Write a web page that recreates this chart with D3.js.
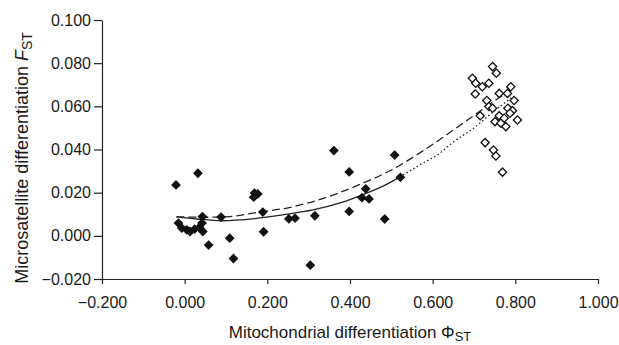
<!DOCTYPE html>
<html>
<head>
<meta charset="utf-8">
<script src="https://cdn.jsdelivr.net/npm/d3@7"></script>
<style>
  body { margin: 0; background: #fff; }
  svg { display: block; font-family: "Liberation Sans", Arial, sans-serif; }
</style>
</head>
<body>
<div id="chart"></div>
<script>
// filled diamonds
var filledX = [-0.021, 0.032, -0.015, -0.007, 0.005, 0.013, 0.024, 0.036, 0.043, 0.042, 0.044, 0.058, 0.088, 0.109, 0.118,
  0.169, 0.177, 0.167, 0.189, 0.191, 0.252, 0.267, 0.315, 0.304, 0.361, 0.398, 0.508, 0.522, 0.438, 0.429, 0.446, 0.398, 0.484];
var filledY = [0.0236, 0.029, 0.0059, 0.0036, 0.0028, 0.002, 0.0031, 0.004, 0.0089, 0.0059, 0.002, -0.0043, 0.0087, -0.0011, -0.0105,
  0.0198, 0.0194, 0.0179, 0.011, 0.0019, 0.0079, 0.0082, 0.0093, -0.0136, 0.0395, 0.0296, 0.0374, 0.0271, 0.0218, 0.0177, 0.0171, 0.0113, 0.0078];

// open diamonds
var openX = [0.745, 0.754, 0.696, 0.704, 0.720, 0.736, 0.703, 0.761, 0.789, 0.781, 0.797, 0.731, 0.736, 0.745,
  0.782, 0.793, 0.787, 0.715, 0.761, 0.773, 0.805, 0.751, 0.765, 0.777, 0.727, 0.747, 0.753, 0.769];
var openY = [0.0784, 0.0753, 0.073, 0.0707, 0.0691, 0.0707, 0.0657, 0.066, 0.0691, 0.066, 0.0627, 0.0627, 0.0599, 0.0591,
  0.0591, 0.058, 0.0568, 0.0556, 0.0556, 0.0545, 0.0537, 0.0529, 0.0522, 0.0506, 0.0432, 0.0398, 0.037, 0.0295];

// trend lines
var solidX = [-0.02, 0.03, 0.09, 0.17, 0.24, 0.31, 0.38, 0.43, 0.48, 0.52];
var solidY = [0.0088, 0.0078, 0.0070, 0.0080, 0.0098, 0.0120, 0.0155, 0.0190, 0.0230, 0.0272];
var dashedX = [-0.02, 0.05, 0.10, 0.18, 0.25, 0.30, 0.43, 0.50, 0.58, 0.65, 0.72, 0.79];
var dashedY = [0.0088, 0.0086, 0.0088, 0.0110, 0.0130, 0.0153, 0.0243, 0.0305, 0.0398, 0.0490, 0.0585, 0.0680];
var dottedX = [0.52, 0.57, 0.615, 0.65, 0.70, 0.75, 0.79];
var dottedY = [0.0272, 0.0330, 0.0380, 0.0435, 0.0500, 0.0580, 0.0640];

var xTicks = [-0.2, 0, 0.2, 0.4, 0.6, 0.8, 1.0];
var yTicks = [-0.02, 0, 0.02, 0.04, 0.06, 0.08, 0.1];

var w = 619, h = 345;
var x = d3.scaleLinear().domain([-0.2, 1.0]).range([102, 598]);
var y = d3.scaleLinear().domain([-0.02, 0.1]).range([279, 20]);

var svg = d3.select('#chart').append('svg').attr('width', w).attr('height', h);

var fmt = function (d) { return (d < 0 ? '\u2212' : '') + Math.abs(d).toFixed(3); };

var xAxis = svg.append('g')
    .attr('transform', 'translate(0,' + y(-0.02) + ')')
    .call(d3.axisBottom(x).tickValues(xTicks).tickFormat(fmt).tickSize(5).tickSizeOuter(0));
var yAxis = svg.append('g')
    .attr('transform', 'translate(' + x(-0.2) + ',0)')
    .call(d3.axisLeft(y).tickValues(yTicks).tickFormat(fmt).tickSize(8).tickSizeOuter(0));

[xAxis, yAxis].forEach(function (a) {
    a.select('.domain').attr('stroke', '#222').attr('stroke-width', 1.2);
    a.selectAll('.tick line').attr('stroke', '#222').attr('stroke-width', 1.2);
    a.selectAll('.tick text').attr('fill', '#1a1a1a').style('font-size', '16px').style('font-family', '"Liberation Sans", Arial, sans-serif');
});
xAxis.selectAll('.tick text').attr('dy', '0').attr('y', 29);
yAxis.selectAll('.tick text').attr('x', -11);

// trend lines
function drawLine(xs, ys, dash) {
    var pts = xs.map(function (v, i) { return [v, ys[i]]; });
    svg.append('path')
        .datum(pts)
        .attr('d', d3.line().x(function (d) { return x(d[0]); }).y(function (d) { return y(d[1]); }).curve(d3.curveMonotoneX))
        .attr('fill', 'none')
        .attr('stroke', '#222')
        .attr('stroke-width', 1.3)
        .attr('stroke-dasharray', dash);
}
drawLine(solidX, solidY, null);
drawLine(dashedX, dashedY, '8,4');
drawLine(dottedX, dottedY, '1.5,2.5');

// points
var sq = d3.symbol().type(d3.symbolSquare);
svg.append('g').selectAll('path')
    .data(filledX.map(function (v, i) { return [v, filledY[i]]; }))
    .enter().append('path')
    .attr('d', sq.size(48)())
    .attr('transform', function (d) { return 'translate(' + x(d[0]) + ',' + y(d[1]) + ') rotate(45)'; })
    .attr('fill', '#111');

svg.append('g').selectAll('path')
    .data(openX.map(function (v, i) { return [v, openY[i]]; }))
    .enter().append('path')
    .attr('d', sq.size(34)())
    .attr('transform', function (d) { return 'translate(' + x(d[0]) + ',' + y(d[1]) + ') rotate(45)'; })
    .attr('fill', '#fff')
    .attr('stroke', '#111')
    .attr('stroke-width', 1.3);

// axis titles
var xt = svg.append('text')
    .attr('x', 350).attr('y', 338)
    .attr('text-anchor', 'middle')
    .attr('fill', '#1a1a1a')
    .style('font-size', '17px');
xt.append('tspan').text('Mitochondrial differentiation \u03A6');
xt.append('tspan').attr('dy', 3).style('font-size', '13px').text('ST');

var yt = svg.append('text')
    .attr('transform', 'translate(28,158) rotate(-90)')
    .attr('text-anchor', 'middle')
    .attr('fill', '#1a1a1a')
    .style('font-size', '18px');
yt.append('tspan').text('Microsatellite differentiation ');
yt.append('tspan').style('font-style', 'italic').text('F');
yt.append('tspan').attr('dy', 4).style('font-size', '14px').text('ST');
</script>
</body>
</html>
